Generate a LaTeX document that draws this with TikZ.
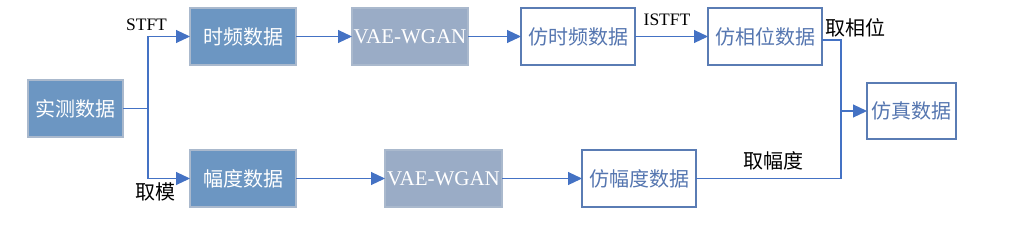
\documentclass[tikz,border=0pt]{standalone}
\usepackage{fontspec}
\setmainfont{Liberation Serif}
\newfontfamily\cjk{Noto Sans CJK SC}
\usetikzlibrary{arrows.meta}
\definecolor{darkfill}{RGB}{108,150,194}
\definecolor{grayfill}{RGB}{154,172,198}
\definecolor{lightborder}{RGB}{170,185,205}
\definecolor{linecol}{RGB}{68,114,196}
\definecolor{wborder}{RGB}{90,124,180}
\definecolor{wtext}{RGB}{85,118,176}
\begin{document}
\begin{tikzpicture}[x=1pt,y=-1pt,
  base/.style={inner sep=0pt,outer sep=0pt,line width=1.2pt,anchor=center},
  darkbox/.style={base,draw=lightborder,fill=darkfill,text=white,font=\fontsize{20}{22}\selectfont\cjk},
  ganbox/.style={base,draw=lightborder,fill=grayfill,text=white,font=\fontsize{21}{22}\selectfont},
  whitebox/.style={base,draw=wborder,fill=white,text=wtext,font=\fontsize{20}{22}\selectfont\cjk},
  conn/.style={draw=linecol,line width=1.1pt},
  arr/.style={conn,-{Triangle[length=14pt,width=13pt]}},
  lab/.style={inner sep=0pt,text=black},
  lablat/.style={lab,font=\fontsize{17.5}{20}\selectfont},
  labcjk/.style={lab,font=\fontsize{20}{22}\selectfont\cjk}]
\useasboundingbox (0,0) rectangle (1011,231);
\node[darkbox,minimum width=95pt,minimum height=57pt] (real) at (75.5,108.5) {实测数据};
\node[darkbox,minimum width=106pt,minimum height=57pt] (tf) at (243,36.5) {时频数据};
\node[darkbox,minimum width=106pt,minimum height=57pt] (amp) at (243,178.5) {幅度数据};
\node[ganbox,minimum width=116pt,minimum height=57pt] (gan1) at (410,36.5) {VAE-WGAN};
\node[ganbox,minimum width=117pt,minimum height=57pt] (gan2) at (443.5,178.5) {VAE-WGAN};
\node[whitebox,minimum width=114pt,minimum height=57pt] (ftf) at (578,36.5) {仿时频数据};
\node[whitebox,minimum width=114pt,minimum height=57pt] (fph) at (765,36.5) {仿相位数据};
\node[whitebox,minimum width=114pt,minimum height=57pt] (famp) at (639,178.5) {仿幅度数据};
\node[whitebox,minimum width=89pt,minimum height=56pt] (sim) at (911.5,111) {仿真数据};
\coordinate (br) at (148,108.5);
\coordinate (mr) at (841,111);
\draw[conn] (real.east) -- (br);
\draw[arr] (br) |- (tf.west);
\draw[arr] (br) |- (amp.west);
\draw[arr] (tf) -- (gan1);
\draw[arr] (gan1) -- (ftf);
\draw[arr] (ftf) -- (fph);
\draw[arr] (amp) -- (gan2);
\draw[arr] (gan2) -- (famp);
\draw[conn] ([yshift=-3.5pt]fph.east) -| (mr) |- (famp.east);
\draw[arr] (mr) -- (sim.west);
\node[lablat] (lstft) at (146.5,25) {STFT};
\node[labcjk] (lmod) at (155,192) {取模};
\node[lablat] (listft) at (667,20) {ISTFT};
\node[labcjk] (lph) at (855,28) {取相位};
\node[labcjk] (lamp) at (773,161) {取幅度};
\end{tikzpicture}
\end{document}
